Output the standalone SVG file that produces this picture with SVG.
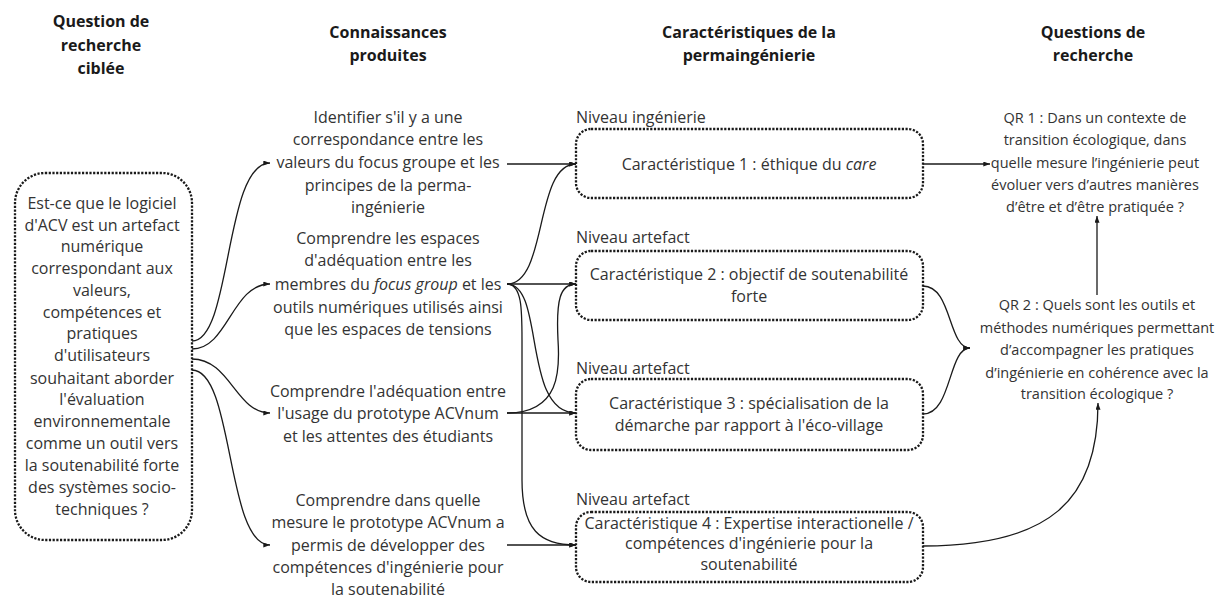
<svg xmlns="http://www.w3.org/2000/svg" width="1220" height="599" viewBox="0 0 1220 599">
<style>
text{font-family:"Open Sans","Liberation Sans",sans-serif;font-size:16px;fill:#333}
.h{font-weight:bold;fill:#1a1a1a;text-anchor:middle}
.c{text-anchor:middle}
.q{font-size:14.5px;text-anchor:middle}
.dot{fill:none;stroke:#1a1a1a;stroke-width:2.3;stroke-dasharray:2.2 1.5}
.ln{fill:none;stroke:#1a1a1a;stroke-width:1.3;marker-end:url(#ah)}
</style>
<defs>
<marker id="ah" viewBox="0 0 8 6" refX="8" refY="3" markerWidth="7" markerHeight="5" markerUnits="userSpaceOnUse" orient="auto">
<path d="M0,0 L8,3 L0,6 z" fill="#1a1a1a"/>
</marker>
</defs>
<rect width="1220" height="599" fill="#fff"/>

<g id="headers">
<text class="h" x="101" y="27">Question de</text>
<text class="h" x="101" y="51">recherche</text>
<text class="h" x="101" y="74">ciblée</text>
<text class="h" x="388" y="38">Connaissances</text>
<text class="h" x="388" y="61">produites</text>
<text class="h" x="749" y="38">Caractéristiques de la</text>
<text class="h" x="749" y="61">permaingénierie</text>
<text class="h" x="1093" y="38">Questions de</text>
<text class="h" x="1093" y="61">recherche</text>
</g>

<g id="question-ciblee">
<rect class="dot" x="15" y="173" width="177" height="367" rx="30"/>
<text class="c" x="102" y="209">Est-ce que le logiciel</text>
<text class="c" x="102" y="231">d'ACV est un artefact</text>
<text class="c" x="102" y="252">numérique</text>
<text class="c" x="102" y="274">correspondant aux</text>
<text class="c" x="102" y="296">valeurs,</text>
<text class="c" x="102" y="318">compétences et</text>
<text class="c" x="102" y="339">pratiques</text>
<text class="c" x="102" y="361">d'utilisateurs</text>
<text class="c" x="102" y="384">souhaitant aborder</text>
<text class="c" x="102" y="405">l'évaluation</text>
<text class="c" x="102" y="427">environnementale</text>
<text class="c" x="102" y="449">comme un outil vers</text>
<text class="c" x="102" y="471">la soutenabilité forte</text>
<text class="c" x="102" y="493">des systèmes socio-</text>
<text class="c" x="102" y="515">techniques ?</text>
</g>

<g id="connaissance-1">
<text class="c" x="388" y="123">Identifier s'il y a une</text>
<text class="c" x="388" y="145">correspondance entre les</text>
<text class="c" x="388" y="168">valeurs du focus groupe et les</text>
<text class="c" x="388" y="191">principes de la perma-</text>
<text class="c" x="388" y="213">ingénierie</text>
</g>
<g id="connaissance-2">
<text class="c" x="388" y="244">Comprendre les espaces</text>
<text class="c" x="388" y="266">d'adéquation entre les</text>
<text class="c" x="388" y="290">membres du <tspan font-style="italic">focus group</tspan> et les</text>
<text class="c" x="388" y="313">outils numériques utilisés ainsi</text>
<text class="c" x="388" y="335">que les espaces de tensions</text>
</g>
<g id="connaissance-3">
<text class="c" x="388" y="397">Comprendre l'adéquation entre</text>
<text class="c" x="388" y="419">l'usage du prototype ACVnum</text>
<text class="c" x="388" y="442">et les attentes des étudiants</text>
</g>
<g id="connaissance-4">
<text class="c" x="388" y="506">Comprendre dans quelle</text>
<text class="c" x="388" y="528">mesure le prototype ACVnum a</text>
<text class="c" x="388" y="551">permis de développer des</text>
<text class="c" x="388" y="573">compétences d'ingénierie pour</text>
<text class="c" x="388" y="595">la soutenabilité</text>
</g>

<g id="caracteristique-1">
<text x="576" y="123">Niveau ingénierie</text>
<rect class="dot" x="576" y="129" width="347" height="69" rx="15"/>
<text class="c" x="749" y="170">Caractéristique 1 : éthique du <tspan font-style="italic">care</tspan></text>
</g>
<g id="caracteristique-2">
<text x="576" y="243">Niveau artefact</text>
<rect class="dot" x="576" y="251" width="347" height="69" rx="15"/>
<text class="c" x="749" y="280">Caractéristique 2 : objectif de soutenabilité</text>
<text class="c" x="749" y="302">forte</text>
</g>
<g id="caracteristique-3">
<text x="576" y="374">Niveau artefact</text>
<rect class="dot" x="576" y="379" width="347" height="71" rx="15"/>
<text class="c" x="749" y="409">Caractéristique 3 : spécialisation de la</text>
<text class="c" x="749" y="431">démarche par rapport à l'éco-village</text>
</g>
<g id="caracteristique-4">
<text x="576" y="505">Niveau artefact</text>
<rect class="dot" x="576" y="512" width="347" height="70" rx="15"/>
<text class="c" x="749" y="529">Caractéristique 4 : Expertise interactionelle /</text>
<text class="c" x="749" y="549">compétences d'ingénierie pour la</text>
<text class="c" x="749" y="570">soutenabilité</text>
</g>

<g id="qr1">
<text class="q" x="1095" y="123">QR 1 : Dans un contexte de</text>
<text class="q" x="1095" y="145">transition écologique, dans</text>
<text class="q" x="1095" y="168">quelle mesure l’ingénierie peut</text>
<text class="q" x="1095" y="190">évoluer vers d’autres manières</text>
<text class="q" x="1095" y="212">d’être et d’être pratiquée ?</text>
</g>
<g id="qr2">
<text class="q" x="1097" y="310">QR 2 : Quels sont les outils et</text>
<text class="q" x="1097" y="333">méthodes numériques permettant</text>
<text class="q" x="1097" y="355">d’accompagner les pratiques</text>
<text class="q" x="1097" y="378">d’ingénierie en cohérence avec la</text>
<text class="q" x="1097" y="399">transition écologique ?</text>
</g>

<g id="connectors">
<path class="ln" d="M192,341 C232,341 224,163 270,163"/>
<path class="ln" d="M192,349 C228,349 232,284 270,284"/>
<path class="ln" d="M192,359 C230,359 236,413 270,413"/>
<path class="ln" d="M192,370 C234,370 226,545 270,545"/>

<path class="ln" d="M507,164 L576,164"/>
<path class="ln" d="M507,284 C548,284 534,164 576,164"/>
<path class="ln" d="M507,284 L576,284"/>
<path class="ln" d="M507,284 C545,284 522,413 576,413"/>
<path class="ln" d="M507,284 C522,284 522,310 522,340 L522,480 C522,530 540,545 576,545"/>
<path class="ln" d="M507,413 L576,413"/>
<path class="ln" d="M507,413 C560,413 560,370 558,340 C556,300 560,284 576,284"/>
<path class="ln" d="M507,545 L576,545"/>

<path class="ln" d="M923,164 L990,164"/>
<path class="ln" d="M923,286 C952,286 948,348 970,348"/>
<path class="ln" d="M923,414 C952,414 948,348 970,348"/>
<path class="ln" d="M923,546 C1050,546 1098,500 1098,403"/>
<path class="ln" d="M1097,295 L1097,216"/>
</g>
</svg>
